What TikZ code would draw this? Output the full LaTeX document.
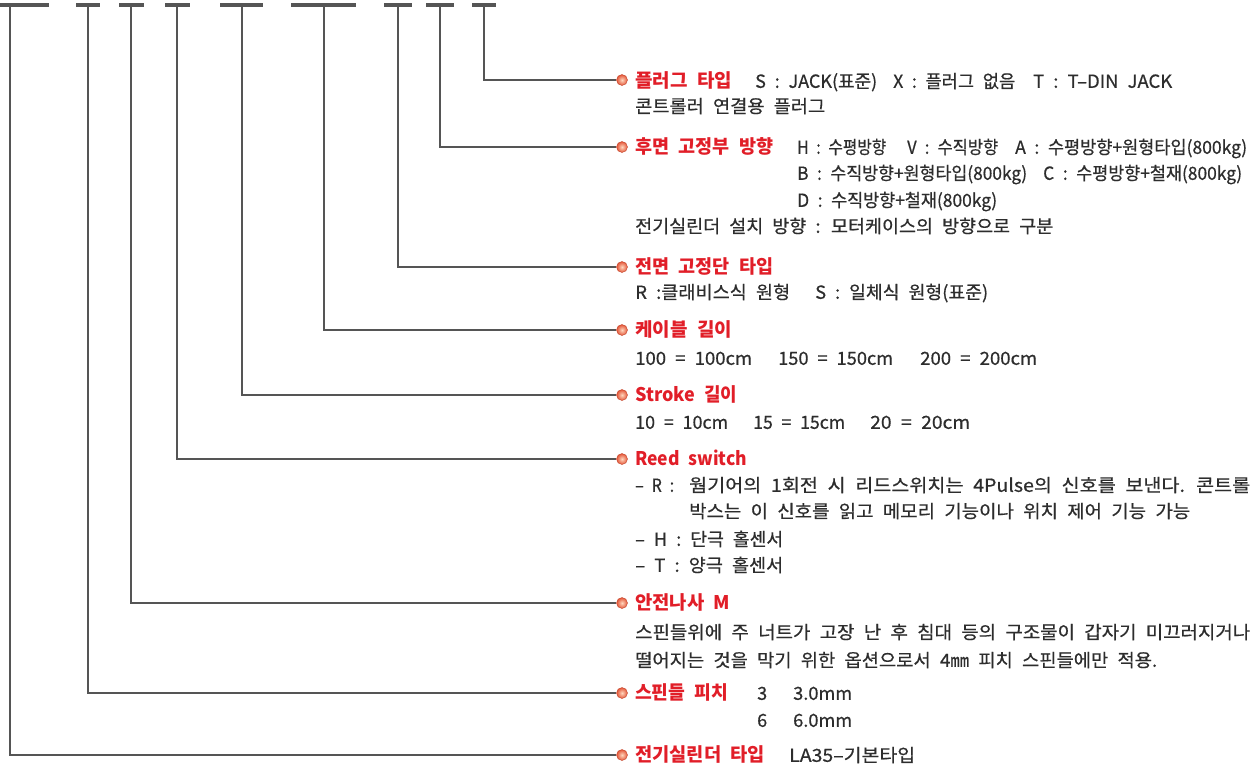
\documentclass[tikz,border=0pt]{standalone}
\usepackage{fontspec}
\usepackage{graphicx}
\setmainfont{Noto Sans CJK KR}[WordSpace=2.2]
\newfontfamily\bodyfont{Noto Sans CJK KR}[WordSpace=2.2,FakeBold=0.6]
\definecolor{lbl}{RGB}{225,30,40}
\definecolor{txt}{RGB}{45,45,45}
\definecolor{ln}{RGB}{85,85,85}
\definecolor{bulL}{RGB}{255,215,190}
\definecolor{bulD}{RGB}{228,85,55}
\newcommand\tseg[6]{\node[#1] (#2) at (#3,#4) {\resizebox{#5pt}{\height}{#6}};}
\begin{document}
\begin{tikzpicture}[x=1pt,y=-1pt,
  bar/.style={line width=4pt,draw=ln},
  conn/.style={line width=1.8pt,draw=ln},
  bullet/.style={circle,inner sep=0pt,minimum size=11pt,inner color=bulL,outer color=bulD,draw=bulD!85!black,line width=0.4pt},
  body/.style={anchor=base west,inner sep=0pt,text=txt,font=\bodyfont\fontsize{18}{21}\selectfont},
  head/.style={anchor=base west,inner sep=0pt,text=lbl,font=\fontsize{18.8}{21}\selectfont\bfseries}]
\useasboundingbox (0,0) rectangle (1259,766);

% top bars
\draw[bar] (0,4.7) -- (49,4.7);
\draw[bar] (76,4.7) -- (100,4.7);
\draw[bar] (119,4.7) -- (144,4.7);
\draw[bar] (165,4.7) -- (190,4.7);
\draw[bar] (220,4.7) -- (263,4.7);
\draw[bar] (291,4.7) -- (356,4.7);
\draw[bar] (384,4.7) -- (412,4.7);
\draw[bar] (426,4.7) -- (454,4.7);
\draw[bar] (472,4.7) -- (496,4.7);

% branch tops
\coordinate (k1) at (484,4.7);
\coordinate (k2) at (440,4.7);
\coordinate (k3) at (398,4.7);
\coordinate (k4) at (324,4.7);
\coordinate (k5) at (242,4.7);
\coordinate (k6) at (177,4.7);
\coordinate (k7) at (131,4.7);
\coordinate (k8) at (88,4.7);
\coordinate (k9) at (10,4.7);

% bullets
\node[bullet] (b1) at (622,80) {};
\node[bullet] (b2) at (622,147) {};
\node[bullet] (b3) at (622,267) {};
\node[bullet] (b4) at (622,330) {};
\node[bullet] (b5) at (622,395) {};
\node[bullet] (b6) at (622,459) {};
\node[bullet] (b7) at (622,603) {};
\node[bullet] (b8) at (622,693) {};
\node[bullet] (b9) at (622,755) {};

% connectors
\foreach \i in {1,...,9} {\draw[conn] (k\i) |- (b\i.west);}

% row 1
\tseg{head}{h1}{635}{87.8}{97}{플러그 타입}
\tseg{body}{r1a}{755}{87.8}{122}{S : JACK(표준)}
\tseg{body}{r1b}{893}{87.8}{122}{X : 플러그 없음}
\tseg{body}{r1c}{1033}{87.8}{139}{T : T–DIN JACK}
\tseg{body}{r1d}{635}{112.8}{190}{콘트롤러 연결용 플러그}
% row 2
\tseg{head}{h2}{635}{153.8}{138}{후면 고정부 방향}
\tseg{body}{r2a}{797}{153.8}{89}{H : 수평방향}
\tseg{body}{r2b}{907}{153.8}{91}{V : 수직방향}
\tseg{body}{r2c}{1015}{153.8}{232}{A : 수평방향+원형타입(800kg)}
\tseg{body}{r2d}{797}{179.8}{230}{B : 수직방향+원형타입(800kg)}
\tseg{body}{r2e}{1043}{179.8}{199}{C : 수평방향+철재(800kg)}
\tseg{body}{r2f}{797}{206.8}{200}{D : 수직방향+철재(800kg)}
\tseg{body}{r2g}{635}{232.8}{418}{전기실린더 설치 방향 : 모터케이스의 방향으로 구분}
% row 3
\tseg{head}{h3}{635}{273.8}{138}{전면 고정단 타입}
\tseg{body}{r3a}{635}{298.8}{155}{R :클래비스식 원형}
\tseg{body}{r3b}{815}{298.8}{173}{S : 일체식 원형(표준)}
% row 4
\tseg{head}{h4}{635}{336.8}{97}{케이블 길이}
\tseg{body}{r4a}{635}{364.8}{117}{100 = 100cm}
\tseg{body}{r4b}{778}{364.8}{115}{150 = 150cm}
\tseg{body}{r4c}{920}{364.8}{117}{200 = 200cm}
% row 5
\tseg{head}{h5}{635}{401.8}{102}{Stroke 길이}
\tseg{body}{r5a}{635}{428.8}{93}{10 = 10cm}
\tseg{body}{r5b}{753}{428.8}{92}{15 = 15cm}
\tseg{body}{r5c}{870}{428.8}{100}{20 = 20cm}
% row 6
\tseg{head}{h6}{635}{465.8}{112}{Reed switch}
\tseg{body}{r6a}{635}{491.8}{39}{– R :}
\tseg{body}{r6b}{689}{491.8}{561}{웜기어의 1회전 시 리드스위치는 4Pulse의 신호를 보낸다. 콘트롤}
\tseg{body}{r6c}{689}{517.8}{501}{박스는 이 신호를 읽고 메모리 기능이나 위치 제어 기능 가능}
\tseg{body}{r6d}{635}{545.8}{148}{– H : 단극 홀센서}
\tseg{body}{r6e}{635}{571.8}{148}{– T : 양극 홀센서}
% row 7
\tseg{head}{h7}{635}{609.8}{95}{안전나사 M}
\tseg{body}{r7a}{635}{638.8}{615}{스핀들위에 주 너트가 고장 난 후 침대 등의 구조물이 갑자기 미끄러지거나}
\tseg{body}{r7b}{635}{666.8}{522}{떨어지는 것을 막기 위한 옵션으로서 4㎜ 피치 스핀들에만 적용.}
% row 8
\tseg{head}{h8}{635}{699.8}{93}{스핀들 피치}
\node[body] (r8a) at (757,699.8) {3};
\tseg{body}{r8b}{793}{699.8}{59}{3.0mm}
\node[body] (r8c) at (757,726.8) {6};
\tseg{body}{r8d}{793}{726.8}{59}{6.0mm}
% row 9
\tseg{head}{h9}{635}{761.8}{130}{전기실린더 타입}
\tseg{body}{r9a}{789}{761.8}{126}{LA35–기본타입}
\end{tikzpicture}
\end{document}
